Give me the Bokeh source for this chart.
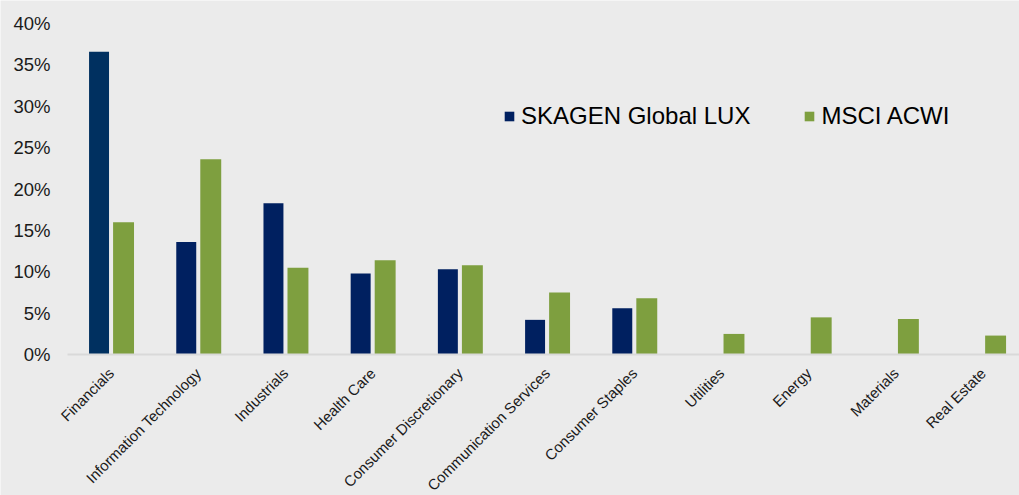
import math
from bokeh.plotting import figure
from bokeh.models import (ColumnDataSource, Range1d, FixedTicker, Legend, LegendItem)
from bokeh.transform import dodge
from bokeh.embed import file_html
from bokeh.resources import INLINE

categories = ["Financials", "Information Technology", "Industrials", "Health Care",
              "Consumer Discretionary", "Communication Services", "Consumer Staples",
              "Utilities", "Energy", "Materials", "Real Estate"]
skagen = [36.6, 13.6, 18.3, 9.8, 10.3, 4.2, 5.6, 0.0, 0.0, 0.0, 0.0]
msci = [16.0, 23.6, 10.5, 11.4, 10.8, 7.5, 6.8, 2.5, 4.5, 4.3, 2.3]
y_ticks = [0, 5, 10, 15, 20, 25, 30, 35, 40]
y_tick_labels = ["0%", "5%", "10%", "15%", "20%", "25%", "30%", "35%", "40%"]
series_names = ["SKAGEN Global LUX", "MSCI ACWI"]

NAVY = "#002060"
GREEN = "#7E9F3F"
BG = "#EBEBEB"
FONT = "Liberation Sans"

x_pos = [i + 0.5 for i in range(len(categories))]
skagen_colors = ["#003060"] + [NAVY] * (len(categories) - 1)

src = ColumnDataSource(dict(x=x_pos, cat=categories, skagen=skagen, msci=msci,
                            scol=skagen_colors))

X_END = 10.917
# frame covers the whole canvas; both axes sit inside it
p = figure(width=1019, height=495, output_backend="svg", toolbar_location=None,
           x_range=Range1d(-0.768, X_END), y_range=Range1d(-17.02, 42.78),
           min_border_left=0, min_border_right=0, min_border_top=0,
           min_border_bottom=0)
p.background_fill_color = BG
p.border_fill_color = BG
p.outline_line_color = None
p.xgrid.visible = False
p.ygrid.visible = False

r1 = p.vbar(x=dodge("x", -0.138, range=p.x_range), top="skagen", width=0.229,
            source=src, fill_color="scol", line_color=None)
r2 = p.vbar(x=dodge("x", 0.143, range=p.x_range), top="msci", width=0.24,
            source=src, fill_color=GREEN, line_color=None)

# y axis at x = 0
p.yaxis.fixed_location = 0
p.yaxis.ticker = FixedTicker(ticks=y_ticks)
p.yaxis.major_label_overrides = {t: l for t, l in zip(y_ticks, y_tick_labels)}
p.yaxis.axis_line_color = None
p.yaxis.major_tick_line_color = None
p.yaxis.minor_tick_line_color = None
p.yaxis.major_label_text_font = FONT
p.yaxis.major_label_text_font_size = "18.5px"
p.yaxis.major_label_text_color = "#1A1A1A"
p.yaxis.major_label_standoff = 11

# x axis at y = 0
p.xaxis.fixed_location = 0
p.xaxis.bounds = (0, X_END)
p.xaxis.ticker = FixedTicker(ticks=x_pos)
p.xaxis.major_label_overrides = {x: c for x, c in zip(x_pos, categories)}
p.xaxis.axis_line_color = "#D9D9D9"
p.xaxis.axis_line_width = 2
p.xaxis.major_tick_line_color = None
p.xaxis.minor_tick_line_color = None
p.xaxis.major_label_orientation = math.pi / 4
p.xaxis.major_label_text_font = FONT
p.xaxis.major_label_text_font_size = "15px"
p.xaxis.major_label_text_color = "#1A1A1A"
p.xaxis.major_label_standoff = 10

legend = Legend(items=[LegendItem(label=series_names[0], renderers=[r1], index=1),
                       LegendItem(label=series_names[1], renderers=[r2])],
                location=(503, 365), orientation="horizontal")
legend.background_fill_alpha = 0
legend.border_line_color = None
legend.padding = 0
legend.margin = 0
legend.glyph_width = 12
legend.glyph_height = 12
legend.label_standoff = 6
legend.spacing = 53
legend.label_text_font = FONT
legend.label_text_font_size = "24px"
legend.label_text_color = "#000000"
p.add_layout(legend)

open("out.html", "w").write(file_html(p, INLINE))
